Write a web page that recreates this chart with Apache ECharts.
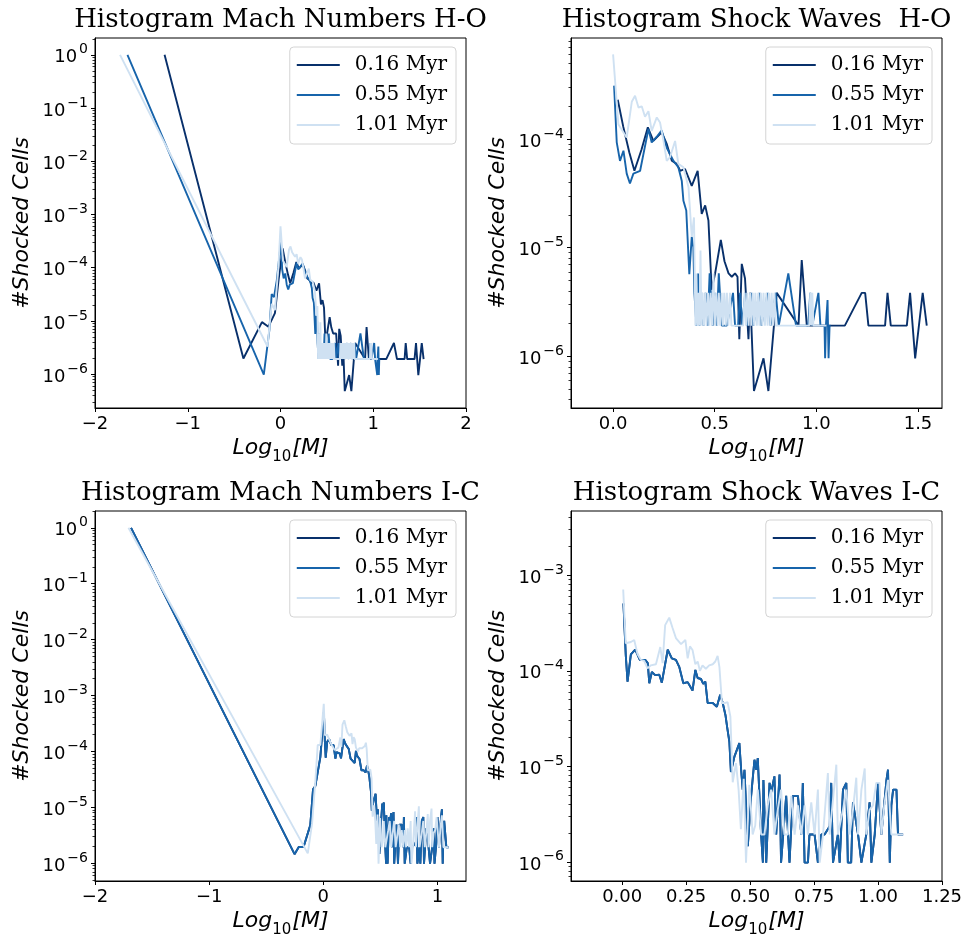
<!DOCTYPE html>
<html>
<head>
<meta charset="utf-8">
<title>Histograms Mach Numbers / Shock Waves</title>
<script src="https://cdn.jsdelivr.net/npm/echarts@6/dist/echarts.min.js"></script>
<style>
  html, body { margin: 0; padding: 0; background: #fff; }
  #main { width: 967px; height: 941px; }
</style>
</head>
<body>
<div id="main"></div>
<script>
// series names and colours (Blues)
var names = ['0.16 Myr', '0.55 Myr', '1.01 Myr'];
var colors = ['#08306b', '#1764ab', '#cfe1f2'];

// ---- H-O : sub-shock part (log10 M < 0), only in the Mach panel
var hoSubDark  = [[-1.25,1.0],[-0.40,1.97e-6],[-0.20,9.5e-6],[-0.13,7.8e-6],[-0.06,1.4e-5],[-0.02,6.0e-5]];
var hoSubMid   = [[-1.65,1.0],[-0.18,9.8e-7],[-0.12,6.7e-6],[-0.095,3.2e-5],[-0.07,2.8e-5],[-0.04,5.8e-5]];
var hoSubLight = [[-1.73,1.0],[-0.14,3.3e-6],[-0.095,2.1e-5],[-0.06,1.6e-5],[-0.023,1.0e-4]];

// ---- H-O : shocked part (log10 M > 0)
var hoShockDark = [[0.023,2.3e-4],[0.05,1.3e-4],[0.08,7.5e-5],[0.105,5.1e-5],[0.14,8.0e-5],[0.171,1.28e-4],[0.198,9.6e-5],
  [0.239,1.15e-4],[0.264,9.0e-5],[0.289,6.3e-5],[0.313,5.9e-5],[0.33,5.1e-5],[0.354,5.3e-5],[0.387,3.7e-5],[0.416,5.1e-5],
  [0.436,2.05e-5],[0.453,2.45e-5],[0.469,1.78e-5],[0.485,4.1e-6],[0.502,5.8e-6],[0.53,1.18e-5],[0.548,7.5e-6],[0.568,5.8e-6],
  [0.584,5.4e-6],[0.6,5.8e-6],[0.612,5.4e-6],[0.621,1.44e-6],[0.633,7.1e-6],[0.649,5.2e-6],[0.666,1.44e-6],[0.674,3.84e-6],
  [0.693,4.8e-7],[0.74,9.6e-7],[0.764,4.8e-7],[0.805,3.84e-6],[0.912,1.92e-6],[0.928,7.7e-6],[0.953,1.92e-6],[1.05,1.92e-6],
  [1.14,1.92e-6],[1.223,3.84e-6],[1.24,3.84e-6],[1.256,1.92e-6],[1.338,1.92e-6],[1.35,3.84e-6],[1.366,1.92e-6],[1.445,1.92e-6],
  [1.461,3.84e-6],[1.486,9.6e-7],[1.523,3.84e-6],[1.543,1.92e-6]];
var hoShockMid = [[0.005,3.1e-4],[0.018,9.3e-5],[0.034,6.3e-5],[0.051,7.8e-5],[0.067,4.8e-5],[0.083,3.9e-5],[0.1,4.8e-5],
  [0.133,5.1e-5],[0.174,1.24e-4],[0.19,9.3e-5],[0.215,1.05e-4],[0.239,1.2e-4],[0.264,8.3e-5],[0.297,6.3e-5],[0.321,5.5e-5],
  [0.338,4.1e-5],[0.346,2.7e-5],[0.36,2.2e-5],[0.375,5.7e-6],[0.387,1.26e-5],[0.395,1.0e-5],[0.40,3.84e-6],[0.41,1.92e-6],
  [0.418,5.8e-6],[0.425,1.92e-6],[0.435,3.84e-6],[0.445,1.92e-6],[0.455,3.84e-6],[0.465,1.92e-6],[0.475,5.8e-6],[0.49,1.92e-6],
  [0.50,3.84e-6],[0.51,1.92e-6],[0.52,5.8e-6],[0.535,1.92e-6],[0.56,1.92e-6],[0.59,3.84e-6],[0.60,1.92e-6],[0.615,1.92e-6],
  [0.625,3.84e-6],[0.635,1.92e-6],[0.65,3.84e-6],[0.66,1.92e-6],[0.68,3.84e-6],[0.69,1.92e-6],[0.72,3.84e-6],[0.73,1.92e-6],
  [0.76,3.84e-6],[0.775,1.92e-6],[0.80,3.84e-6],[0.815,1.92e-6],[0.862,5.8e-6],[0.90,1.92e-6],[0.96,1.92e-6],[0.97,3.84e-6],
  [0.98,1.92e-6],[1.01,3.84e-6],[1.02,1.92e-6],[1.04,1.92e-6],[1.043,9.6e-7],[1.047,1.92e-6],[1.055,3.3e-6],[1.06,9.6e-7],
  [1.065,1.92e-6],[1.07,1.92e-6]];
var hoShockLight = [[0.0,6.0e-4],[0.026,1.37e-4],[0.045,1.2e-4],[0.067,1.03e-4],[0.092,2.2e-4],[0.108,2.5e-4],[0.125,1.95e-4],
  [0.141,2.0e-4],[0.157,1.6e-4],[0.174,1.8e-4],[0.19,1.19e-4],[0.215,1.58e-4],[0.231,1.42e-4],[0.248,9.6e-5],[0.264,6.3e-5],
  [0.28,6.8e-5],[0.305,9.6e-5],[0.321,5.9e-5],[0.346,5.5e-5],[0.371,3.6e-5],[0.387,1.26e-5],[0.398,1.9e-5],[0.405,1.92e-6],
  [0.41,5.8e-6],[0.415,1.92e-6],[0.42,3.84e-6],[0.425,1.92e-6],[0.43,9.4e-6],[0.435,1.92e-6],[0.44,3.84e-6],[0.447,1.92e-6],
  [0.453,3.84e-6],[0.46,1.92e-6],[0.467,3.84e-6],[0.474,1.92e-6],[0.48,3.84e-6],[0.487,1.92e-6],[0.494,5.8e-6],[0.50,1.92e-6],
  [0.507,3.84e-6],[0.514,1.92e-6],[0.52,3.84e-6],[0.527,1.92e-6],[0.534,3.84e-6],[0.54,1.92e-6],[0.547,3.84e-6],[0.554,1.92e-6],
  [0.56,3.84e-6],[0.567,1.92e-6],[0.575,3.84e-6],[0.582,1.92e-6],[0.64,1.92e-6],[0.647,3.84e-6],[0.654,1.92e-6],[0.66,3.84e-6],
  [0.667,1.92e-6],[0.674,3.84e-6],[0.68,1.92e-6],[0.687,3.84e-6],[0.694,1.92e-6],[0.70,3.84e-6],[0.707,1.92e-6],[0.714,3.84e-6],
  [0.72,1.92e-6],[0.727,3.84e-6],[0.734,1.92e-6],[0.74,3.84e-6],[0.747,1.92e-6],[0.754,3.84e-6],[0.76,1.92e-6],[0.767,3.84e-6],
  [0.774,1.92e-6],[0.78,3.84e-6],[0.787,1.92e-6],[0.794,3.84e-6],[0.80,1.92e-6],[0.965,1.92e-6],[0.97,3.84e-6],[0.975,1.92e-6],
  [0.98,3.84e-6],[0.985,1.92e-6],[1.05,1.92e-6]];

// ---- I-C : sub-shock part
var icSubMid   = [[-1.684,1.0],[-0.252,1.45e-6],[-0.215,1.95e-6],[-0.173,1.95e-6],[-0.114,4.8e-6],[-0.09,2.1e-5],[-0.07,2.4e-5],[-0.026,7.9e-5]];
var icSubLight = [[-1.707,1.0],[-0.136,1.5e-6],[-0.098,5.2e-6],[-0.069,3.1e-5],[-0.049,1.3e-4],[-0.026,1.3e-4]];

// ---- I-C : shocked part
var icShockMid = [[0.005,5.06e-4],[0.014,1.46e-4],[0.021,7.7e-5],[0.034,1.48e-4],[0.051,1.66e-4],[0.069,1.3e-4],[0.09,1.3e-4],
  [0.1,1.2e-4],[0.106,7.4e-5],[0.116,9.7e-5],[0.129,9.0e-5],[0.145,9.1e-5],[0.155,7.5e-5],[0.178,1.66e-4],[0.194,1.35e-4],
  [0.21,1.3e-4],[0.223,1.1e-4],[0.239,7.4e-5],[0.256,7.6e-5],[0.275,6.2e-5],[0.286,1.02e-4],[0.295,8.4e-5],[0.308,8.2e-5],
  [0.317,7.3e-5],[0.325,7.7e-5],[0.334,4.6e-5],[0.354,4.6e-5],[0.37,4.2e-5],[0.383,5.6e-5],[0.393,4.6e-5],[0.404,3.4e-5],
  [0.41,2.6e-5],[0.419,1.8e-5],[0.425,8.7e-6],[0.439,1.27e-5],[0.458,1.75e-5],[0.465,9.2e-6],[0.471,5.7e-6],[0.478,9.2e-6],
  [0.491,1.46e-6],[0.504,4.9e-6],[0.517,1.17e-5],[0.524,9.2e-6],[0.53,1.22e-5],[0.543,1.93e-6],[0.55,9.8e-7],[0.552,7.2e-6],
  [0.563,9.8e-7],[0.576,6.7e-6],[0.582,5.3e-6],[0.595,7.85e-6],[0.602,1.93e-6],[0.615,8.2e-6],[0.621,9.8e-7],[0.628,9.8e-7],
  [0.641,4.9e-6],[0.654,9.8e-7],[0.667,4.9e-6],[0.687,4.9e-6],[0.70,1.93e-6],[0.706,6.7e-6],[0.713,9.8e-7],[0.726,9.8e-7],
  [0.732,1.93e-6],[0.752,1.93e-6],[0.765,9.8e-7],[0.778,1.93e-6],[0.791,1.93e-6],[0.811,2.36e-6],[0.817,6.7e-6],[0.824,9.8e-7],
  [0.843,1.93e-6],[0.85,9.8e-7],[0.863,5.7e-6],[0.876,6.7e-6],[0.882,9.8e-7],[0.895,9.8e-7],[0.902,4.2e-6],[0.922,1.93e-6],
  [0.935,9.8e-7],[0.954,1.93e-6],[0.967,4.2e-6],[0.974,9.8e-7],[0.987,1.93e-6],[1.0,6.7e-6],[1.013,1.93e-6],[1.033,7.2e-6],
  [1.039,9.2e-6],[1.046,9.8e-7],[1.052,3.9e-6],[1.059,5.7e-6],[1.072,5.7e-6],[1.078,1.93e-6],[1.098,1.93e-6]];
var icShockLight = [[0.004,7.1e-4],[0.014,1.94e-4],[0.034,2.0e-4],[0.047,2.1e-4],[0.06,1.5e-4],[0.073,1.3e-4],[0.086,1.27e-4],
  [0.099,1.06e-4],[0.112,1.14e-4],[0.132,1.17e-4],[0.149,1.77e-4],[0.158,1.2e-4],[0.168,3.0e-4],[0.184,3.6e-4],[0.197,2.8e-4],
  [0.21,2.2e-4],[0.23,1.9e-4],[0.247,2.1e-4],[0.256,1.35e-4],[0.265,1.8e-4],[0.275,1.65e-4],[0.286,1.17e-4],[0.295,1.25e-4],
  [0.304,1.0e-4],[0.314,1.14e-4],[0.327,1.05e-4],[0.34,1.14e-4],[0.354,1.17e-4],[0.364,1.25e-4],[0.373,1.43e-4],[0.38,1.1e-4],
  [0.39,4.6e-5],[0.403,4.6e-5],[0.412,4.7e-5],[0.423,3.3e-5],[0.432,6.8e-6],[0.445,1.08e-5],[0.455,5.7e-6],[0.464,2.2e-6],
  [0.475,7.4e-6],[0.484,9.8e-7],[0.497,6.4e-6],[0.51,1.93e-6],[0.52,2.4e-6],[0.53,5.7e-6],[0.543,1.93e-6],[0.556,1.93e-6],
  [0.569,3.9e-6],[0.582,5.7e-6],[0.595,1.93e-6],[0.608,3.5e-6],[0.621,5.7e-6],[0.634,1.93e-6],[0.647,1.93e-6],[0.661,4.9e-6],
  [0.674,1.93e-6],[0.687,3.9e-6],[0.70,1.93e-6],[0.713,3.9e-6],[0.726,1.93e-6],[0.739,4.2e-6],[0.752,1.93e-6],[0.765,5.7e-6],
  [0.772,9.8e-7],[0.785,1.93e-6],[0.804,8.5e-6],[0.811,1.93e-6],[0.837,1.04e-5],[0.843,1.93e-6],[0.863,3.5e-6],[0.876,5.7e-6],
  [0.889,1.93e-6],[0.902,3.5e-6],[0.915,7.6e-6],[0.922,1.93e-6],[0.935,5.7e-6],[0.948,9.5e-6],[0.954,1.93e-6],[0.967,3.5e-6],
  [0.98,3.9e-6],[0.993,6.7e-6],[1.006,6.7e-6],[1.013,1.93e-6],[1.026,4.2e-6],[1.039,7.2e-6],[1.052,1.93e-6],[1.098,1.93e-6]];
// the 0.16 Myr I-C curves lie exactly under the 0.55 Myr ones
var icSubDark = icSubMid;
var icShockDark = icShockMid;

// tick labels
var xTicksMachHO = [-2, -1, 0, 1, 2];
var xTicksShockHO = [0, 0.5, 1, 1.5];
var xTicksMachIC = [-2, -1, 0, 1];
var xTicksShockIC = [0, 0.25, 0.5, 0.75, 1, 1.25];
var yTicksMach = [1e-6, 1e-5, 1e-4, 1e-3, 1e-2, 1e-1, 1];
var yTicksShockHO = [1e-6, 1e-5, 1e-4];
var yTicksShockIC = [1e-6, 1e-5, 1e-4, 1e-3];

var panels = [
  { title: 'Histogram Mach Numbers H-O', left: 95, top: 38, xMin: -2, xMax: 2, yMin: 2.31e-7, yMax: 2.07,
    xTicks: xTicksMachHO, xDigits: 0, yTicks: yTicksMach, legendRight: 511,
    data: [hoSubDark.concat(hoShockDark), hoSubMid.concat(hoShockMid), hoSubLight.concat(hoShockLight)] },
  { title: 'Histogram Shock Waves  H-O', left: 571, top: 38, xMin: -0.207, xMax: 1.618, yMin: 3.35e-7, yMax: 8.5e-4,
    xTicks: xTicksShockHO, xDigits: 1, yTicks: yTicksShockHO, legendRight: 35,
    data: [hoShockDark, hoShockMid, hoShockLight] },
  { title: 'Histogram Mach Numbers I-C', left: 95, top: 511, xMin: -2, xMax: 1.25, yMin: 4.8e-7, yMax: 2.0,
    xTicks: xTicksMachIC, xDigits: 0, yTicks: yTicksMach, legendRight: 511,
    data: [icSubDark.concat(icShockDark), icSubMid.concat(icShockMid), icSubLight.concat(icShockLight)] },
  { title: 'Histogram Shock Waves I-C', left: 571, top: 511, xMin: -0.2, xMax: 1.25, yMin: 6.3e-7, yMax: 4.7e-3,
    xTicks: xTicksShockIC, xDigits: 2, yTicks: yTicksShockIC, legendRight: 35,
    data: [icShockDark, icShockMid, icShockLight] }
];

var W = 371, H = 370;

function minorTicks(lo, hi) {
  var out = [];
  for (var e = Math.floor(Math.log10(lo)); e <= Math.ceil(Math.log10(hi)); e++) {
    for (var k = 2; k <= 9; k++) {
      var v = k * Math.pow(10, e);
      if (v >= lo && v <= hi) out.push(v);
    }
  }
  return out;
}

function xFormatter(d) {
  return function (v) {
    return v < 0 ? '\u2212' + (-v).toFixed(d) : v.toFixed(d);
  };
}

function yFormatter(v) {
  var e = Math.round(Math.log10(v));
  return '{b|10}{s|' + (e < 0 ? '\u2212' + (-e) : e) + '}';
}

var grid = [], xAxis = [], yAxis = [], series = [], legend = [], graphic = [];

panels.forEach(function (p, i) {
  grid.push({ left: p.left, top: p.top, width: W, height: H, show: true,
              borderColor: '#000', borderWidth: 1, backgroundColor: '#fff' });

  xAxis.push({
    type: 'value', gridIndex: i, min: p.xMin, max: p.xMax,
    axisLine: { show: true, onZero: false, lineStyle: { color: '#000', width: 1 } },
    axisTick: { show: true, customValues: p.xTicks, length: 4, lineStyle: { color: '#000' } },
    axisLabel: { customValues: p.xTicks, formatter: xFormatter(p.xDigits), color: '#000',
                 fontFamily: 'DejaVu Sans', fontSize: 18, margin: 7 },
    splitLine: { show: false },
    name: '{i|Log}{sub|10}{i|[M]}', nameLocation: 'middle', nameGap: 33,
    nameTextStyle: { color: '#000', fontFamily: 'DejaVu Sans', fontSize: 22,
      rich: {
        i: { fontFamily: 'DejaVu Sans', fontStyle: 'italic', fontSize: 22, color: '#000', lineHeight: 24,
             verticalAlign: 'bottom', padding: [0, 0, 6, 0] },
        sub: { fontFamily: 'DejaVu Sans', fontSize: 15, color: '#000', lineHeight: 18, verticalAlign: 'bottom', padding: [0, 1, 0, 0] }
      } }
  });

  yAxis.push({
    type: 'log', logBase: 10, gridIndex: i, position: 'left', min: p.yMin, max: p.yMax,
    axisLine: { show: true, onZero: false, lineStyle: { color: '#000', width: 1 } },
    axisTick: { show: true, customValues: p.yTicks, length: 4, lineStyle: { color: '#000' } },
    axisLabel: { customValues: p.yTicks, formatter: yFormatter, margin: 7,
      rich: {
        b: { fontFamily: 'DejaVu Sans', fontSize: 18, color: '#000', lineHeight: 24, verticalAlign: 'bottom' },
        s: { fontFamily: 'DejaVu Sans', fontSize: 14, color: '#000', lineHeight: 15, verticalAlign: 'top', padding: [0, 0, 0, 2] }
      } },
    splitLine: { show: false },
    name: '#Shocked Cells', nameLocation: 'middle', nameGap: 62, nameRotate: 90,
    nameTextStyle: { color: '#000', fontFamily: 'DejaVu Sans', fontStyle: 'italic', fontSize: 22 }
  });
  // minor log ticks
  yAxis.push({
    type: 'log', logBase: 10, gridIndex: i, position: 'left', offset: 0, min: p.yMin, max: p.yMax,
    axisLine: { show: false, onZero: false },
    axisTick: { show: true, customValues: minorTicks(p.yMin, p.yMax), length: 2.5, lineStyle: { color: '#000', width: 0.8 } },
    axisLabel: { show: false },
    splitLine: { show: false }
  });

  p.data.forEach(function (d, k) {
    series.push({
      type: 'line', name: names[k], xAxisIndex: i, yAxisIndex: 2 * i, data: d,
      showSymbol: false, symbol: 'none', clip: true, z: 2 + k,
      lineStyle: { color: colors[k], width: 1.9 }, itemStyle: { color: colors[k] },
      emphasis: { disabled: true }
    });
  });

  legend.push({
    orient: 'vertical', right: p.legendRight, top: p.top + 9, data: names, icon: 'rect',
    itemWidth: 43, itemHeight: 2.2, itemGap: 10, padding: [8, 9, 9, 7],
    borderColor: '#d4d4d4', borderWidth: 1, borderRadius: 4, backgroundColor: 'rgba(255,255,255,0.8)',
    selectedMode: false,
    textStyle: { fontFamily: 'DejaVu Serif', fontSize: 20, color: '#000', lineHeight: 20, padding: [0, 0, 0, 10] }
  });

  graphic.push({
    type: 'text', x: p.left + W / 2, y: p.top - 18, z: 10,
    style: { text: p.title, font: '26px "DejaVu Serif"', fill: '#000',
             align: 'center', verticalAlign: 'middle', textAlign: 'center', textVerticalAlign: 'middle' }
  });
});

var chart = echarts.init(document.getElementById('main'));
chart.setOption({
  animation: false,
  backgroundColor: '#fff',
  grid: grid,
  xAxis: xAxis,
  yAxis: yAxis,
  legend: legend,
  graphic: graphic,
  series: series
});
</script>
</body>
</html>
